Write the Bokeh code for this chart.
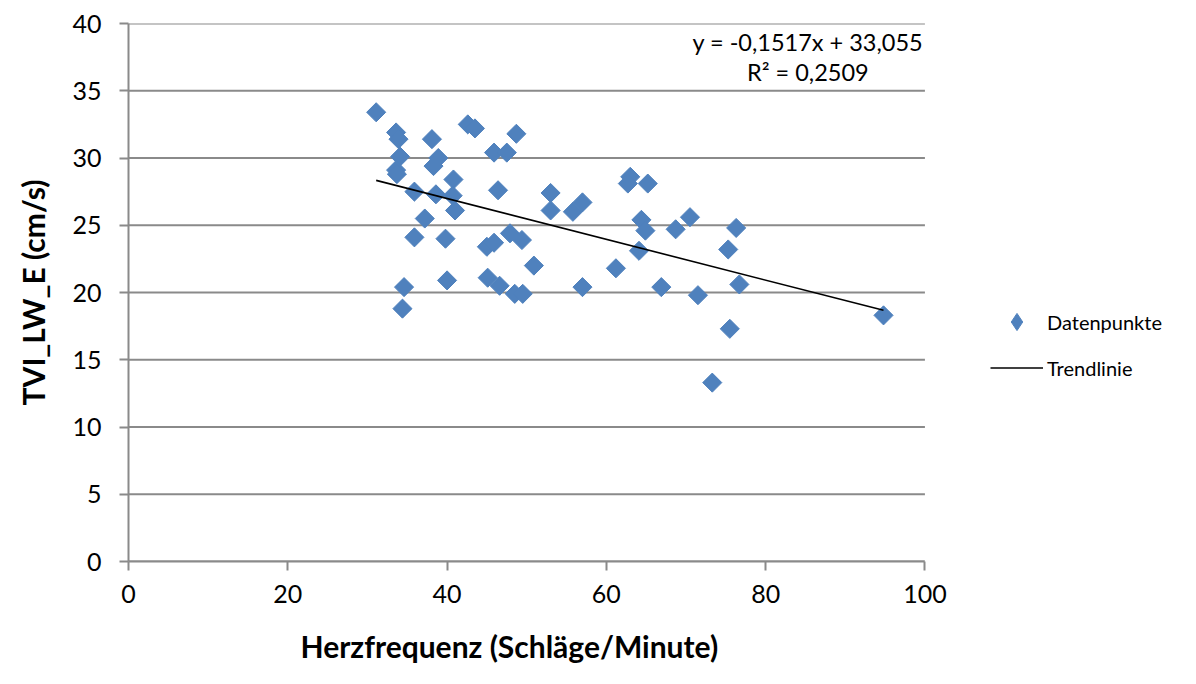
import math
from bokeh.plotting import figure
from bokeh.models import (Range1d, FixedTicker, Legend, LegendItem, Label,
                          ColumnDataSource, Title)
from bokeh.embed import file_html
from bokeh.resources import INLINE

# Data
heart_rate = [31.1, 33.6, 33.9, 38.1, 34.1, 38.9, 38.3, 33.6, 33.7, 40.8,
              35.9, 38.6, 40.7, 41.0, 37.2, 35.9, 39.8, 34.6, 34.4, 40.0,
              42.6, 43.5, 48.7, 45.9, 47.5, 46.4, 45.0, 45.9, 47.9, 49.4,
              45.1, 46.6, 48.5, 49.5, 50.9, 53.0, 53.0, 55.8, 57.0, 57.0,
              61.2, 63.0, 62.7, 65.2, 64.4, 64.9, 64.1, 66.9, 68.7, 70.5,
              71.5, 76.3, 75.3, 76.7, 75.5, 73.3, 94.8]
tvi = [33.4, 31.9, 31.4, 31.4, 30.1, 30.0, 29.4, 29.1, 28.8, 28.4,
       27.5, 27.3, 27.2, 26.1, 25.5, 24.1, 24.0, 20.4, 18.8, 20.9,
       32.5, 32.2, 31.8, 30.4, 30.4, 27.6, 23.4, 23.7, 24.4, 23.9,
       21.1, 20.5, 19.9, 19.9, 22.0, 27.4, 26.1, 26.0, 26.7, 20.4,
       21.8, 28.6, 28.1, 28.1, 25.4, 24.6, 23.1, 20.4, 24.7, 25.6,
       19.8, 24.8, 23.2, 20.6, 17.3, 13.3, 18.3]
slope = -0.1517
intercept = 33.055
r_squared = 0.2509
x_ticks = [0, 20, 40, 60, 80, 100]
y_ticks = [0, 5, 10, 15, 20, 25, 30, 35, 40]

FONT = "Lato"
GRID = "#8a8a8a"
BLUE = "#4F81BD"

x_lo, x_hi = x_ticks[0], x_ticks[-1]

# frame runs to the right edge so the legend can sit inside it;
# axis line and grid lines stop at x = 100
p = figure(width=1196, height=684, output_backend="svg", toolbar_location=None,
           x_range=Range1d(0, 134.1), y_range=Range1d(0, 40),
           min_border_left=128, min_border_right=0,
           min_border_top=23, min_border_bottom=122)
p.outline_line_color = None
p.background_fill_color = "white"
p.border_fill_color = "white"
p.xgrid.visible = False
p.ygrid.visible = False

p.segment(x0=x_lo, x1=x_hi, y0=y_ticks, y1=y_ticks,
          line_color=GRID, line_width=2)

src = ColumnDataSource(dict(x=heart_rate, y=tvi))
pts = p.scatter("x", "y", source=src, marker="square", size=13.5,
                angle=math.pi / 4, fill_color=BLUE, line_color=BLUE)
# hidden twin used only for the legend key (shows a diamond)
pts_key = p.scatter("x", "y", source=src, marker="diamond", fill_color=BLUE,
                    line_color=BLUE, visible=False)

xmin, xmax = min(heart_rate), max(heart_rate)
trend = p.line([xmin, xmax], [slope * xmin + intercept, slope * xmax + intercept],
               line_color="black", line_width=1.6)

p.xaxis.ticker = FixedTicker(ticks=x_ticks)
p.yaxis.ticker = FixedTicker(ticks=y_ticks)
p.xaxis.bounds = (x_lo, x_hi)

for ax in (p.xaxis[0], p.yaxis[0]):
    ax.axis_line_color = GRID
    ax.axis_line_width = 2
    ax.major_tick_line_color = GRID
    ax.major_tick_line_width = 2
    ax.major_tick_out = 9
    ax.major_tick_in = 0
    ax.minor_tick_line_color = None
    ax.major_label_text_font = FONT
    ax.major_label_text_font_size = "25px"
    ax.major_label_text_color = "black"
    ax.axis_label_text_font = FONT
    ax.axis_label_text_font_style = "bold"
    ax.axis_label_text_font_size = "30px"
    ax.axis_label_text_color = "black"

p.yaxis.axis_label = "TVI_LW_E (cm/s)"
p.xaxis.major_label_standoff = 14
p.yaxis.major_label_standoff = 18
p.yaxis.axis_label_standoff = 18

xtitle = Title(text="Herzfrequenz (Schläge/Minute)", align="left", offset=172,
               text_font=FONT, text_font_style="bold", text_font_size="30px",
               text_color="black", standoff=41, text_line_height=0.7)
p.add_layout(xtitle, "below")

eq1 = "y = {:.4f}x + {:.3f}".format(slope, intercept).replace(".", ",")
eq2 = "R² = {:.4f}".format(r_squared).replace(".", ",")
for txt, yy in ((eq1, 38.6), (eq2, 36.4)):
    p.add_layout(Label(x=85.3, y=yy, text=txt, text_align="center",
                       text_baseline="middle", text_font=FONT,
                       text_font_size="23.5px", text_color="black"))

legend = Legend(items=[LegendItem(label="Datenpunkte", renderers=[pts_key]),
                       LegendItem(label="Trendlinie", renderers=[trend])],
                location=(862, 172), padding=0, margin=0, spacing=3,
                glyph_width=53, glyph_height=43, label_height=20,
                label_standoff=4, label_text_font=FONT,
                label_text_font_size="20px", label_text_color="black",
                border_line_color=None, background_fill_alpha=0)
p.add_layout(legend, "center")

open("out.html", "w").write(file_html(p, INLINE))
